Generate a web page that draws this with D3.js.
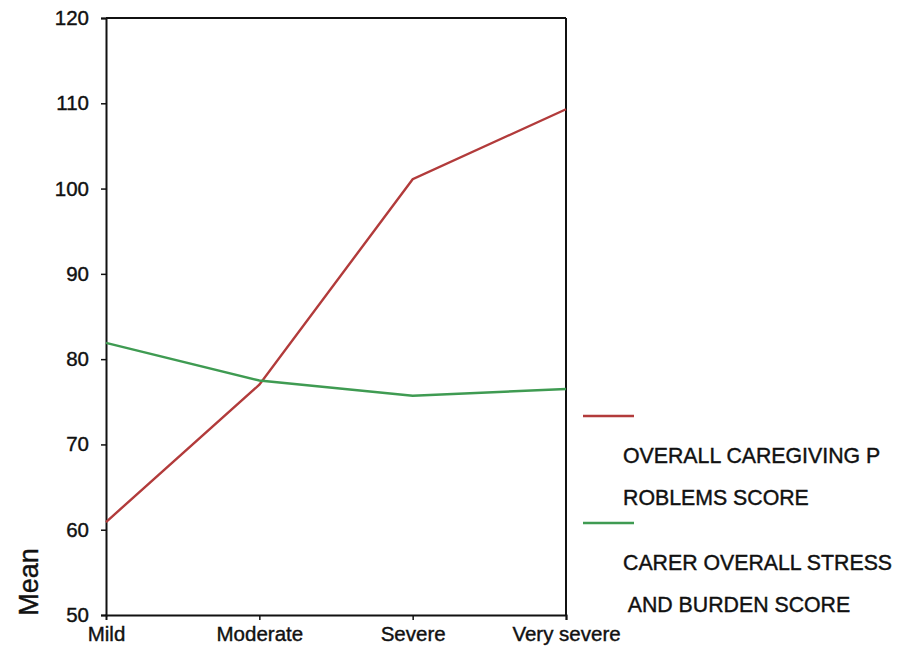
<!DOCTYPE html>
<html><head><meta charset="utf-8">
<script src="https://cdn.jsdelivr.net/npm/d3@7"></script>
<style>body{margin:0;background:#fff}svg{display:block}text{font-family:"Liberation Sans",Arial,sans-serif;fill:#111}</style>
</head><body>
<script>
const categories = ["Mild","Moderate","Severe","Very severe"];
const problemsScore = [60.9, 77.0, 101.1, 109.3];
const stressScore = [81.9, 77.5, 75.7, 76.5];
const yTicks = [50,60,70,80,90,100,110,120];
const seriesNames = [["OVERALL CAREGIVING P","ROBLEMS SCORE"],["CARER OVERALL STRESS"," AND BURDEN SCORE"]];
const seriesColors = ["#b23b3b","#3f9b52"];

const W=899,H=647;
const svg=d3.select("body").append("svg").attr("width",W).attr("height",H);
const x=d3.scalePoint().domain(categories).range([106,566]);
const y=d3.scaleLinear().domain([50,120]).range([615,18]);
const FS="20.5px";

// frame top/right
svg.append("line").attr("x1",106).attr("x2",566).attr("y1",y(120)).attr("y2",y(120)).attr("stroke","#111").attr("stroke-width",2);
svg.append("line").attr("x1",566).attr("x2",566).attr("y1",y(120)).attr("y2",y(50)).attr("stroke","#111").attr("stroke-width",2);

const yAxis=svg.append("g").attr("transform","translate(106,0)").call(d3.axisLeft(y).tickValues(yTicks).tickSize(5).tickPadding(12));
const xAxis=svg.append("g").attr("transform",`translate(0,${y(50)})`).call(d3.axisBottom(x).tickSize(5).tickPadding(6));
[yAxis,xAxis].forEach(g=>{
  g.select(".domain").attr("stroke","#111").attr("stroke-width",2);
  g.selectAll(".tick line").attr("stroke","#111").attr("stroke-width",1.5);
  g.selectAll("text").style("font-size",FS).style("font-family","Liberation Sans, Arial, sans-serif").attr("fill","#111").attr("stroke","#111").attr("stroke-width",0.4);
});
xAxis.selectAll(".tick line").filter((d,i)=>i===0).remove();

svg.append("text").attr("transform","translate(38,582) rotate(-90)").attr("text-anchor","middle").style("font-size","27px").attr("stroke","#111").attr("stroke-width",0.4).text("Mean");

const line=d3.line().x((d,i)=>x(categories[i])).y(d=>y(d));
[problemsScore,stressScore].forEach((s,k)=>{
  svg.append("path").datum(s).attr("d",line).attr("fill","none").attr("stroke",seriesColors[k]).attr("stroke-width",2.4);
});

// legend
const legY=[416,523];
seriesNames.forEach((nm,k)=>{
  svg.append("line").attr("x1",583).attr("x2",634).attr("y1",legY[k]).attr("y2",legY[k]).attr("stroke",seriesColors[k]).attr("stroke-width",2.4);
  nm.forEach((t,j)=>{
    svg.append("text").attr("x",623).attr("y",legY[k]+47+j*42).style("font-size","21.3px").attr("stroke","#111").attr("stroke-width",0.4).style("white-space","pre").text(t);
  });
});
</script>
</body></html>
